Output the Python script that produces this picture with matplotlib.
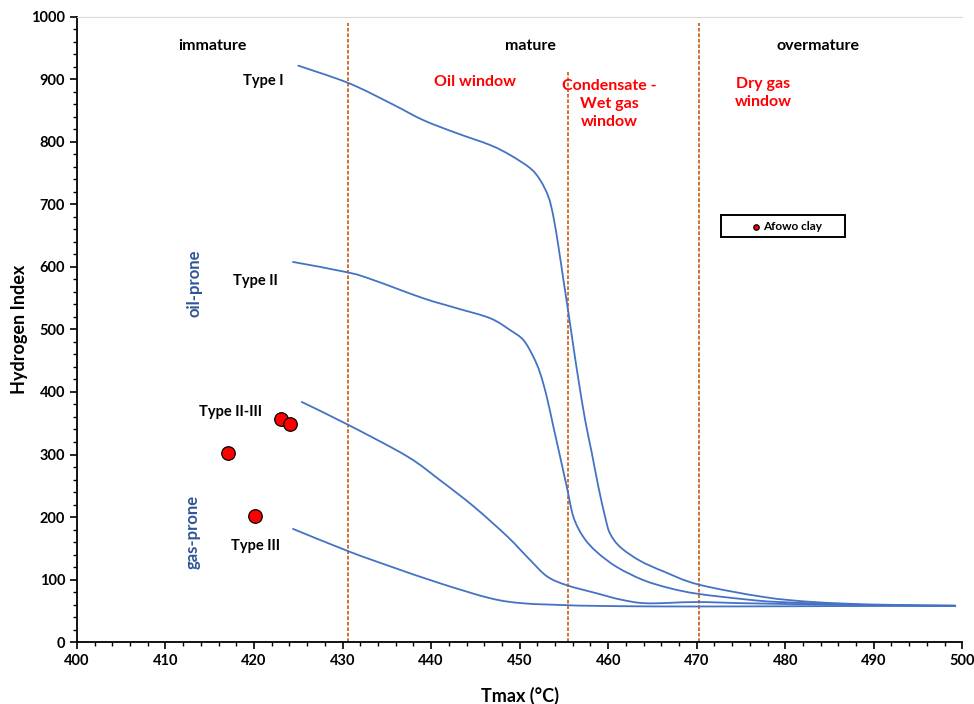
import numpy as np
import matplotlib
matplotlib.use('Agg')
import matplotlib.pyplot as plt
from matplotlib.ticker import MultipleLocator
from matplotlib.path import Path
from matplotlib.patches import PathPatch, Rectangle

plt.rcParams['font.family'] = ['Lato', 'DejaVu Sans']

# =========================
# DATA
# =========================
type1_x = [425.0, 430.7, 435.4, 439.1, 442.9, 446.67, 448.93, 451.19, 452.32, 453.26, 453.82,
           454.39, 454.95, 455.52, 456.08, 456.65, 457.4, 458.16, 458.9, 459.66, 460.2,
           461.36, 463.6, 466.25, 470.2, 477.6, 483.2, 490.0, 499.2]
type1_y = [922, 894, 862, 835, 814, 795, 779, 758, 739, 712, 680,
           632, 579, 526, 472, 419, 355, 302, 248, 200, 174,
           152, 130, 113, 92, 72, 64, 60, 58]

type2_x = [424.4, 430.7, 433.5, 439.1, 442.9, 446.67, 448.93, 450.43, 451.56, 452.32, 453.07,
           453.82, 454.58, 455.33, 456.08, 457.2, 458.72, 460.98, 463.99, 467.0, 470.2,
           475.7, 479.4, 490.0, 499.2]
type2_y = [608, 591, 579, 550, 534, 518, 499, 483, 456, 430, 392,
           344, 296, 248, 200, 168, 144, 120, 99, 86, 77,
           68, 64, 59, 58]

type23_x = [425.4, 430.7, 437.3, 441.0, 444.8, 448.6, 451.2, 453.1, 455.3, 458.7,
            461.4, 464.4, 470.0, 475.7, 485.0, 499.2]
type23_y = [384, 347, 297, 259, 217, 169, 131, 105, 91, 78,
            68, 62, 64, 62, 60, 58]

type3_x = [424.4, 430.7, 435.4, 441.0, 446.7, 450.4, 455.3, 458.0, 465.0, 475.0, 485.0, 499.2]
type3_y = [181, 145, 121, 94, 70, 62, 59, 58, 57, 57, 57.5, 58]

clay_tmax = [417.1, 420.1, 423.0, 424.1]
clay_hi = [302, 201, 356, 348]

bounds_x = [430.6, 455.5, 470.3]
bounds_top = [990, 912, 990]


def smooth_path(xs, ys):
    # Excel-style smoothed line: cubic bezier through the points (Catmull-Rom tangents)
    p = np.column_stack([xs, ys]).astype(float)
    verts = [p[0]]
    codes = [Path.MOVETO]
    n = len(p)
    for i in range(n - 1):
        p0 = p[i - 1] if i > 0 else p[i]
        p3 = p[i + 2] if i + 2 < n else p[i + 1]
        c1 = p[i] + (p[i + 1] - p0) / 6.0
        c2 = p[i + 1] - (p3 - p[i]) / 6.0
        verts += [c1, c2, p[i + 1]]
        codes += [Path.CURVE4] * 3
    return Path(verts, codes)


# =========================
# PLOT
# =========================
fig = plt.figure(figsize=(9.74, 7.04), dpi=100)
ax = fig.add_axes([0.079, 0.088, 0.909, 0.888])

blue = '#4472C4'
for xs, ys in [(type1_x, type1_y), (type2_x, type2_y), (type23_x, type23_y), (type3_x, type3_y)]:
    ax.add_patch(PathPatch(smooth_path(xs, ys), fill=False, edgecolor=blue, lw=1.3,
                           zorder=3, capstyle='round'))

for bx, bt in zip(bounds_x, bounds_top):
    ax.plot([bx, bx], [0, bt], color='#C55A11', lw=1.2, ls=(0, (2.2, 1.1)), zorder=2)

ax.scatter(clay_tmax, clay_hi, s=95, c='#FF0000', edgecolors='black', linewidths=0.9,
           zorder=4, label='Afowo clay')

ax.set_xlim(400, 500)
ax.set_ylim(0, 1000)
ax.xaxis.set_major_locator(MultipleLocator(10))
ax.xaxis.set_minor_locator(MultipleLocator(2))
ax.yaxis.set_major_locator(MultipleLocator(100))
ax.yaxis.set_minor_locator(MultipleLocator(20))
ax.tick_params(which='major', direction='out', length=5, width=1.2, labelsize=10.5)
ax.tick_params(which='minor', direction='out', length=3, width=1)
for lab in ax.get_xticklabels() + ax.get_yticklabels():
    lab.set_fontweight('bold')

ax.spines['left'].set_linewidth(1.3)
ax.spines['bottom'].set_linewidth(1.3)
ax.spines['right'].set_visible(False)
ax.spines['top'].set_color('#D9D9D9')

ax.set_xlabel('Tmax (°C)', fontsize=13, fontweight='bold', labelpad=14)
ax.set_ylabel('Hydrogen Index', fontsize=13, fontweight='bold', labelpad=2)

# zone labels
for tx, lab in [(415.3, 'immature'), (451.2, 'mature'), (483.7, 'overmature')]:
    ax.text(tx, 953, lab, ha='center', va='center', fontsize=11.5, fontweight='bold')

for tx, ty, lab in [(421.0, 898, 'Type I'), (420.1, 578, 'Type II'),
                    (417.4, 368, 'Type II-III'), (420.2, 154, 'Type III')]:
    ax.text(tx, ty, lab, ha='center', va='center', fontsize=10.5, fontweight='bold')

ax.text(413.3, 574, 'oil-prone', rotation=90, ha='center', va='center', fontsize=12,
        color='#2F5597', fontweight='bold')
ax.text(413.1, 176, 'gas-prone', rotation=90, ha='center', va='center', fontsize=12,
        color='#2F5597', fontweight='bold')

red_kw = dict(ha='center', va='center', fontsize=11.5, color='#FF0000', fontweight='bold',
              linespacing=1.35)
ax.text(445.0, 896, 'Oil window', **red_kw)
ax.text(460.1, 861, 'Condensate -\nWet gas\nwindow', **red_kw)
ax.text(477.5, 878, 'Dry gas\nwindow', **red_kw)

# legend with a hand-sized box like the original
ax.add_patch(Rectangle((0.7277, 0.648), 0.1401, 0.0344, transform=ax.transAxes,
                       fill=False, edgecolor='black', lw=1.4, zorder=5))
leg = ax.legend(loc='center left', bbox_to_anchor=(0.7615, 0.665), frameon=False,
                markerscale=0.4, handletextpad=0.25, borderpad=0, borderaxespad=0,
                handlelength=0.8, prop={'size': 8.5, 'weight': 'bold'})

plt.savefig('out.png', dpi=100)
plt.close()
